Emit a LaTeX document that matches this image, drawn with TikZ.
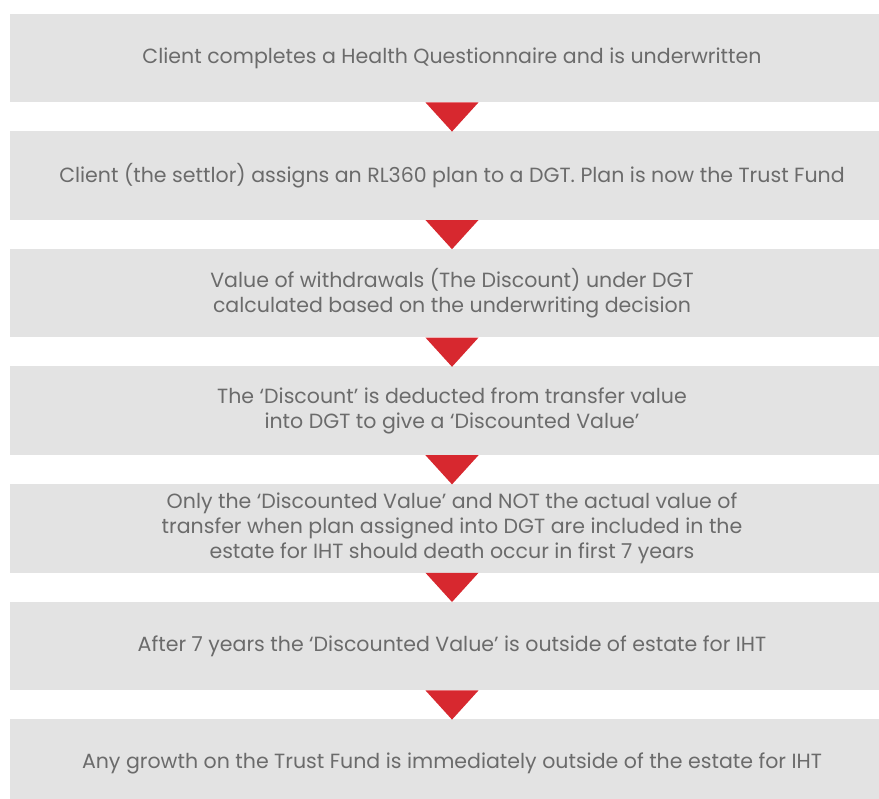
\documentclass[tikz,border=0pt]{standalone}
\usepackage{fontspec}
\setmainfont{Poppins}
\usetikzlibrary{positioning}
\definecolor{boxgrey}{HTML}{E3E3E3}
\definecolor{textgrey}{HTML}{6B6B6B}
\definecolor{arrowred}{HTML}{D7282F}
\tikzset{
  stepbox/.style={fill=boxgrey, text=textgrey, minimum width=663pt,
    minimum height=66.4pt, align=center, inner sep=0pt,
    font=\fontsize{15.4pt}{18.75pt}\selectfont},
  downtri/.style={fill=arrowred}
}

\begin{document}
\begin{tikzpicture}
\clip (0,0) rectangle (659.25pt,-599.25pt);

\node[stepbox] (s1) at (339pt,-43.4pt) {Client completes a Health Questionnaire and is underwritten};
\node[stepbox, below=21.4pt of s1] (s2) {Client (the settlor) assigns an RL360 plan to a DGT. Plan is now the Trust Fund};
\node[stepbox, below=21.4pt of s2] (s3) {Value of withdrawals (The Discount) under DGT\\calculated based on the underwriting decision};
\node[stepbox, below=21.4pt of s3] (s4) {The ‘Discount’ is deducted from transfer value\\into DGT to give a ‘Discounted Value’};
\node[stepbox, below=21.4pt of s4] (s5) {Only the ‘Discounted Value’ and NOT the actual value of\\transfer when plan assigned into DGT are included in the\\estate for IHT should death occur in first 7 years};
\node[stepbox, below=21.4pt of s5] (s6) {After 7 years the ‘Discounted Value’ is outside of estate for IHT};
\node[stepbox, below=21.4pt of s6] (s7) {Any growth on the Trust Fund is immediately outside of the estate for IHT};

% red arrows between the steps
\foreach \a/\b in {s1/s2,s2/s3,s3/s4,s4/s5,s5/s6,s6/s7}
  \fill[downtri] ([xshift=-19.9pt]\a.south) -- ([xshift=19.9pt]\a.south) -- ([yshift=-0.5pt]\b.north) -- cycle;
\end{tikzpicture}
\end{document}
